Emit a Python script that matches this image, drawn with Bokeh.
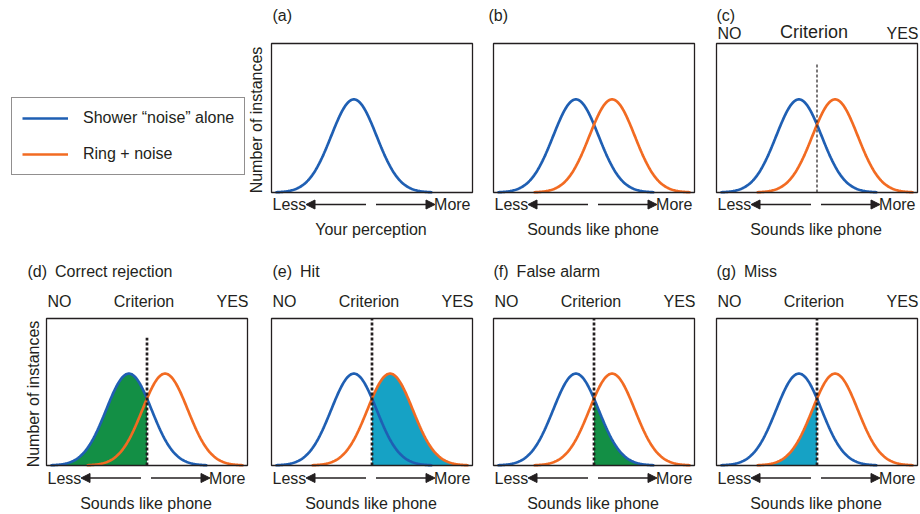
import numpy as np
from bokeh.plotting import figure
from bokeh.models import Range1d, Arrow, NormalHead, Legend, LegendItem
from bokeh.layouts import column, row
from bokeh.embed import file_html
from bokeh.resources import INLINE
from bokeh.core.properties import value

# ---------------- data ----------------
AXIS_MIN, AXIS_MAX = 0.0, 10.0          # "sounds like phone" axis (box extent)
BOX_TOP = 1.6                            # "number of instances" axis top
DIST_NAMES = ["noise", "signal"]
DIST_MEANS = [4.1, 5.9]                  # shower noise alone, ring + noise
DIST_SPREAD = 1.13                       # standard deviation of both bells
DIST_TAIL = 3.9                          # curves drawn to mean +/- this
DIST_PEAK = 1.0
CRITERION = 5.0
CRITERION_SHORT_TOP = 1.39               # height of criterion line in (c), (d)

legend_labels = ["Shower \u201cnoise\u201d alone", "Ring + noise"]
panel_tags = ["(a)", "(b)", "(c)", "(d)", "(e)", "(f)", "(g)"]
panel_titles = ["", "", "", "Correct rejection", "Hit", "False alarm", "Miss"]
x_titles = ["Your perception"] + ["Sounds like phone"] * 6
y_title = "Number of instances"
end_labels = ["Less", "More"]
decision_labels = ["NO", "Criterion", "YES"]
# shaded outcome per bottom panel: (distribution, side of criterion)
outcome_fill = {"(d)": ("noise", "below"), "(e)": ("signal", "above"),
                "(f)": ("noise", "above"), "(g)": ("signal", "below")}

# ---------------- styles ----------------
FONT = "Liberation Sans"
INK = "#231f20"
COLORS = {"noise": "#1f5fb3", "signal": "#f26b22"}
FILLS = {"(d)": "#138f45", "(e)": "#16a2c5", "(f)": "#138f45", "(g)": "#16a2c5"}
FS = "16px"
PX = 20.1   # pixels per perception unit


def bell(name, lo=None, hi=None):
    mean = DIST_MEANS[DIST_NAMES.index(name)]
    a = mean - DIST_TAIL if lo is None else max(lo, mean - DIST_TAIL)
    b = mean + DIST_TAIL if hi is None else min(hi, mean + DIST_TAIL)
    xs = np.linspace(a, b, 200)
    ys = DIST_PEAK * np.exp(-0.5 * ((xs - mean) / DIST_SPREAD) ** 2)
    return xs, ys


def make_fig(f0, f1, ft, fb, box_left, box_t, box_b):
    sy = (box_b - box_t) / BOX_TOP
    xr = Range1d((f0 - box_left) / PX, (f1 - box_left) / PX)
    yr = Range1d(-(fb - box_b) / sy, BOX_TOP + (box_t - ft) / sy)
    p = figure(width=f1 - f0, height=fb - ft, x_range=xr, y_range=yr,
               x_axis_type=None, y_axis_type=None, toolbar_location=None,
               output_backend="svg", min_border=0, outline_line_color=None,
               background_fill_color="white", border_fill_color="white")
    p.grid.visible = False
    return p, sy


def txt(p, x, y, s, size=FS, align="left", angle=0.0):
    p.text(x=[x], y=[y], text=[s], text_font=value(FONT), text_font_size=size,
           text_align=align, text_baseline="middle", text_color=INK, angle=angle)


def panel(idx, f0, f1, ft, fb, box_left, box_t, box_b, top_row):
    tag = panel_tags[idx]
    p, sy = make_fig(f0, f1, ft, fb, box_left, box_t, box_b)
    dx = lambda px: px / PX
    dy = lambda px: px / sy
    mid = (AXIS_MIN + AXIS_MAX) / 2

    # shaded outcome
    if tag in outcome_fill:
        name, side = outcome_fill[tag]
        if side == "below":
            xs, ys = bell(name, hi=CRITERION)
        else:
            xs, ys = bell(name, lo=CRITERION)
        p.varea(x=xs, y1=np.zeros_like(xs), y2=ys, fill_color=FILLS[tag])

    # curves
    names = ["noise"] if tag == "(a)" else DIST_NAMES
    for name in names:
        xs, ys = bell(name)
        p.line(xs, ys, line_color=COLORS[name], line_width=2.7)

    # criterion line
    if tag == "(c)":
        p.segment(x0=[CRITERION], y0=[0], x1=[CRITERION], y1=[CRITERION_SHORT_TOP],
                  line_color=INK, line_width=1.2, line_dash="3 2")
    elif not top_row:
        top = CRITERION_SHORT_TOP if tag == "(d)" else BOX_TOP
        p.segment(x0=[CRITERION], y0=[0], x1=[CRITERION], y1=[top],
                  line_color=INK, line_width=2.7, line_dash="3 2")

    # box
    p.quad(left=[AXIS_MIN], right=[AXIS_MAX], bottom=[0], top=[BOX_TOP],
           fill_color=None, line_color=INK, line_width=1.3)

    # tag / title
    if top_row:
        tag_dx = {"(a)": 1, "(b)": -5, "(c)": 0}[tag]
        txt(p, AXIS_MIN + dx(tag_dx), BOX_TOP + dy(28), tag)
    else:
        tag_dx = {"(d)": -19, "(e)": 1, "(f)": 0, "(g)": 0}[tag]
        txt(p, AXIS_MIN + dx(tag_dx), BOX_TOP + dy(47),
            tag + "\u2002" + panel_titles[idx])

    # NO / Criterion / YES
    if tag == "(c)":
        txt(p, AXIS_MIN + dx(1), BOX_TOP + dy(10), decision_labels[0])
        txt(p, CRITERION - dx(3), BOX_TOP + dy(11.5), decision_labels[1],
            size="18px", align="center")
        txt(p, AXIS_MAX + dx(1), BOX_TOP + dy(10), decision_labels[2], align="right")
    elif not top_row:
        txt(p, AXIS_MIN + dx(1), BOX_TOP + dy(17), decision_labels[0])
        txt(p, CRITERION - dx(3), BOX_TOP + dy(17), decision_labels[1], align="center")
        txt(p, AXIS_MAX + dx(1), BOX_TOP + dy(17), decision_labels[2], align="right")

    # Less <-  -> More
    ya = -dy(12 if top_row else 12.5)
    txt(p, AXIS_MIN + dx(1), ya, end_labels[0])
    txt(p, AXIS_MAX - dx(2), ya, end_labels[1], align="right")
    for xs0, xs1 in ((AXIS_MIN + dx(94.5), AXIS_MIN + dx(34.5)),
                     (AXIS_MIN + dx(104.5), AXIS_MIN + dx(163.5))):
        p.add_layout(Arrow(x_start=xs0, y_start=ya, x_end=xs1, y_end=ya,
                           line_color=INK, line_width=1.3,
                           end=NormalHead(size=9, fill_color=INK, line_color=INK,
                                          line_width=1)))

    # axis title
    txt(p, mid - dx(1), -dy(36.5 if top_row else 37.5), x_titles[idx], align="center")

    # y title
    if tag in ("(a)", "(d)"):
        off = 15 if tag == "(a)" else 13.3
        txt(p, AXIS_MIN - dx(off), BOX_TOP / 2 - dy(2), y_title,
            align="center", angle=np.pi / 2)
    return p


# ---------------- layout (page pixels) ----------------
TOP_EDGES = [0, 245, 482, 705, 919]
BOT_EDGES = [0, 258, 482, 705, 919]
BOX_LEFTS = [46, 271, 493, 716]
TOP_Y = (0, 245, 43, 192)      # fig top, fig bottom, box top, box bottom
BOT_Y = (245, 513, 318, 465)

# legend figure
lp = figure(width=TOP_EDGES[1] - TOP_EDGES[0], height=TOP_Y[1] - TOP_Y[0],
            x_range=Range1d(0, 1), y_range=Range1d(0, 1),
            x_axis_type=None, y_axis_type=None, toolbar_location=None,
            output_backend="svg", min_border=0, outline_line_color=None)
lp.grid.visible = False
items = []
for name, lab in zip(DIST_NAMES, legend_labels):
    # legend proxies: kept outside the visible range of this blank figure
    r = lp.line(x=[2, 3], y=[2, 2], line_color=COLORS[name], line_width=2.7)
    items.append(LegendItem(label=lab, renderers=[r]))
legend = Legend(items=items, location=(11, 70), margin=0, padding=10, spacing=16,
                glyph_width=46, glyph_height=20, label_height=20, label_standoff=15,
                label_text_font=FONT, label_text_font_size=FS, label_text_color=INK,
                border_line_color=INK, border_line_width=1.3,
                background_fill_color="white", background_fill_alpha=1.0)
lp.add_layout(legend)

top_figs = [lp]
for k, idx in enumerate([0, 1, 2]):
    c = k + 1
    top_figs.append(panel(idx, TOP_EDGES[c], TOP_EDGES[c + 1], TOP_Y[0], TOP_Y[1],
                          BOX_LEFTS[c], TOP_Y[2], TOP_Y[3], True))
bot_figs = []
for c, idx in enumerate([3, 4, 5, 6]):
    bot_figs.append(panel(idx, BOT_EDGES[c], BOT_EDGES[c + 1], BOT_Y[0], BOT_Y[1],
                          BOX_LEFTS[c], BOT_Y[2], BOT_Y[3], False))

layout = column(row(*top_figs, spacing=0), row(*bot_figs, spacing=0), spacing=0)
open("out.html", "w").write(file_html(layout, INLINE))
